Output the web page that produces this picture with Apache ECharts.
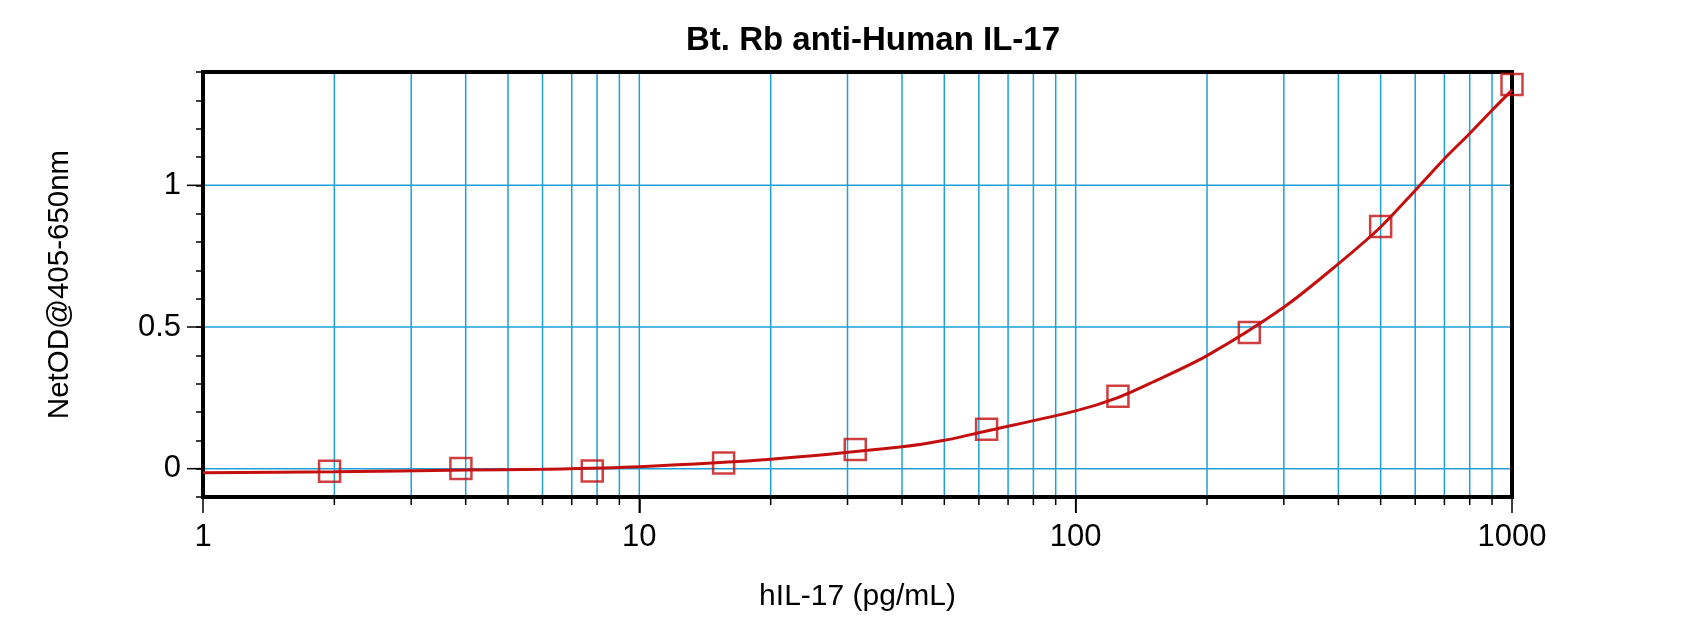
<!DOCTYPE html>
<html>
<head>
<meta charset="utf-8">
<script src="https://cdn.jsdelivr.net/npm/echarts@6/dist/echarts.min.js"></script>
<style>
html,body{margin:0;padding:0;background:#fff;}
#chart{width:1700px;height:629px;}
</style>
</head>
<body>
<div id="chart"></div>
<script>
// ---- data ----
const titleText = 'Bt. Rb anti-Human IL-17';
const xName = 'hIL-17 (pg/mL)';
const yName = 'NetOD@405-650nm';
const concentrations = [1.95, 3.9, 7.8, 15.6, 31.25, 62.5, 125, 250, 500, 1000];
const netOD = [-0.009, 0.001, -0.008, 0.020, 0.068, 0.139, 0.256, 0.481, 0.855, 1.356];
const fitX = [1, 2, 4, 6, 10, 20, 40, 50, 62.5, 100, 125, 150, 200, 300, 400, 500, 600, 700, 800, 900, 1000];
const fitY = [-0.014, -0.011, -0.005, -0.002, 0.007, 0.033, 0.077, 0.100, 0.133, 0.204, 0.251, 0.305, 0.399, 0.570, 0.723, 0.853, 0.982, 1.094, 1.183, 1.265, 1.336];
const xGridValues = [2,3,4,5,6,7,8,9,10,20,30,40,50,60,70,80,90,100,200,300,400,500,600,700,800,900];
const xMajorValues = [1, 10, 100, 1000];
const xTickLabels = ['1', '10', '100', '1000'];
const yMajorValues = [0, 0.5, 1];
const yTickLabels = ['0', '0.5', '1'];
const yMin = -0.1, yMax = 1.4, yStep = 0.1;

const FONT = "'Liberation Sans', Arial, sans-serif";
const BLUE = '#1e9fd8';
const RED = '#c40f0f';

const chart = echarts.init(document.getElementById('chart'), null, {renderer: 'canvas'});

function gridXRender(params, api) {
  const cs = params.coordSys;
  const x = api.coord([api.value(0), yMin])[0];
  const bottom = cs.y + cs.height;
  const isMajor = xMajorValues.indexOf(api.value(0)) >= 0;
  return {
    type: 'group',
    children: [
      {type: 'line', shape: {x1: x, y1: cs.y + 2, x2: x, y2: bottom - 2},
       style: {stroke: BLUE, lineWidth: 1.5}},
      {type: 'line', shape: {x1: x, y1: bottom, x2: x, y2: bottom + (isMajor ? 16 : 8)},
       style: {stroke: '#000', lineWidth: 1.5}}
    ]
  };
}
function gridYRender(params, api) {
  const cs = params.coordSys;
  const y = api.coord([1, api.value(1)])[1];
  return {
    type: 'group',
    children: [
      {type: 'line', shape: {x1: cs.x + 2, y1: y, x2: cs.x + cs.width - 2, y2: y},
       style: {stroke: BLUE, lineWidth: 1.5}},
      {type: 'line', shape: {x1: cs.x - 16, y1: y, x2: cs.x, y2: y},
       style: {stroke: '#000', lineWidth: 1.5}}
    ]
  };
}

const option = {
  backgroundColor: '#fff',
  animation: false,
  title: {
    text: titleText,
    left: 868,
    textAlign: 'center',
    top: 19,
    textStyle: {fontFamily: FONT, fontWeight: 'bold', fontSize: 33, color: '#000'}
  },
  grid: {
    left: 203, right: 188, top: 72, bottom: 132,
    show: true, borderColor: '#000', borderWidth: 4, backgroundColor: '#fff'
  },
  xAxis: {
    type: 'log', logBase: 10, min: 1, max: 1000,
    name: xName, nameLocation: 'middle', nameGap: 85,
    nameTextStyle: {fontFamily: FONT, fontSize: 30, color: '#000'},
    axisLine: {show: true, onZero: false, lineStyle: {color: '#000', width: 4}},
    axisTick: {show: true, length: 16, lineStyle: {color: '#000', width: 1.5}},
    axisLabel: {
      fontFamily: FONT, fontSize: 31, color: '#000', margin: 25,
      formatter: function (v) {
        const i = xMajorValues.findIndex(m => Math.abs(m - v) < 1e-6 * m);
        return i >= 0 ? xTickLabels[i] : '';
      }
    },
    splitLine: {show: false},
    minorTick: {show: false}
  },
  yAxis: {
    type: 'value', min: yMin, max: yMax, interval: yStep,
    name: yName, nameLocation: 'middle', nameGap: 128, nameRotate: 90,
    nameTextStyle: {fontFamily: FONT, fontSize: 29.5, color: '#000'},
    axisLine: {show: true, onZero: false, lineStyle: {color: '#000', width: 4}},
    axisTick: {show: true, length: 7, lineStyle: {color: '#000', width: 1.5}},
    axisLabel: {
      fontFamily: FONT, fontSize: 31, color: '#000', margin: 22,
      formatter: function (v) {
        const i = yMajorValues.findIndex(m => Math.abs(v - m) < 1e-6);
        return i >= 0 ? yTickLabels[i] : '';
      }
    },
    splitLine: {show: false}
  },
  series: [
    {
      type: 'custom', name: 'xgrid', z: 1, silent: true, clip: false,
      data: xGridValues.map(v => [v, 0]),
      encode: {x: 0, y: 1},
      renderItem: gridXRender
    },
    {
      type: 'custom', name: 'ygrid', z: 1, silent: true, clip: false,
      data: yMajorValues.map(v => [1, v]),
      encode: {x: 0, y: 1},
      renderItem: gridYRender
    },
    {
      type: 'line', name: 'fit', z: 3, smooth: 0.3, showSymbol: false, silent: true,
      data: fitX.map((x, i) => [x, fitY[i]]),
      lineStyle: {color: RED, width: 3}
    },
    {
      type: 'scatter', name: 'points', z: 4, clip: false, silent: true,
      symbol: 'rect', symbolSize: 21,
      data: concentrations.map((x, i) => [x, netOD[i]]),
      itemStyle: {color: 'rgba(0,0,0,0)', borderColor: RED, borderWidth: 2.5}
    }
  ]
};
chart.setOption(option);
</script>
</body>
</html>
